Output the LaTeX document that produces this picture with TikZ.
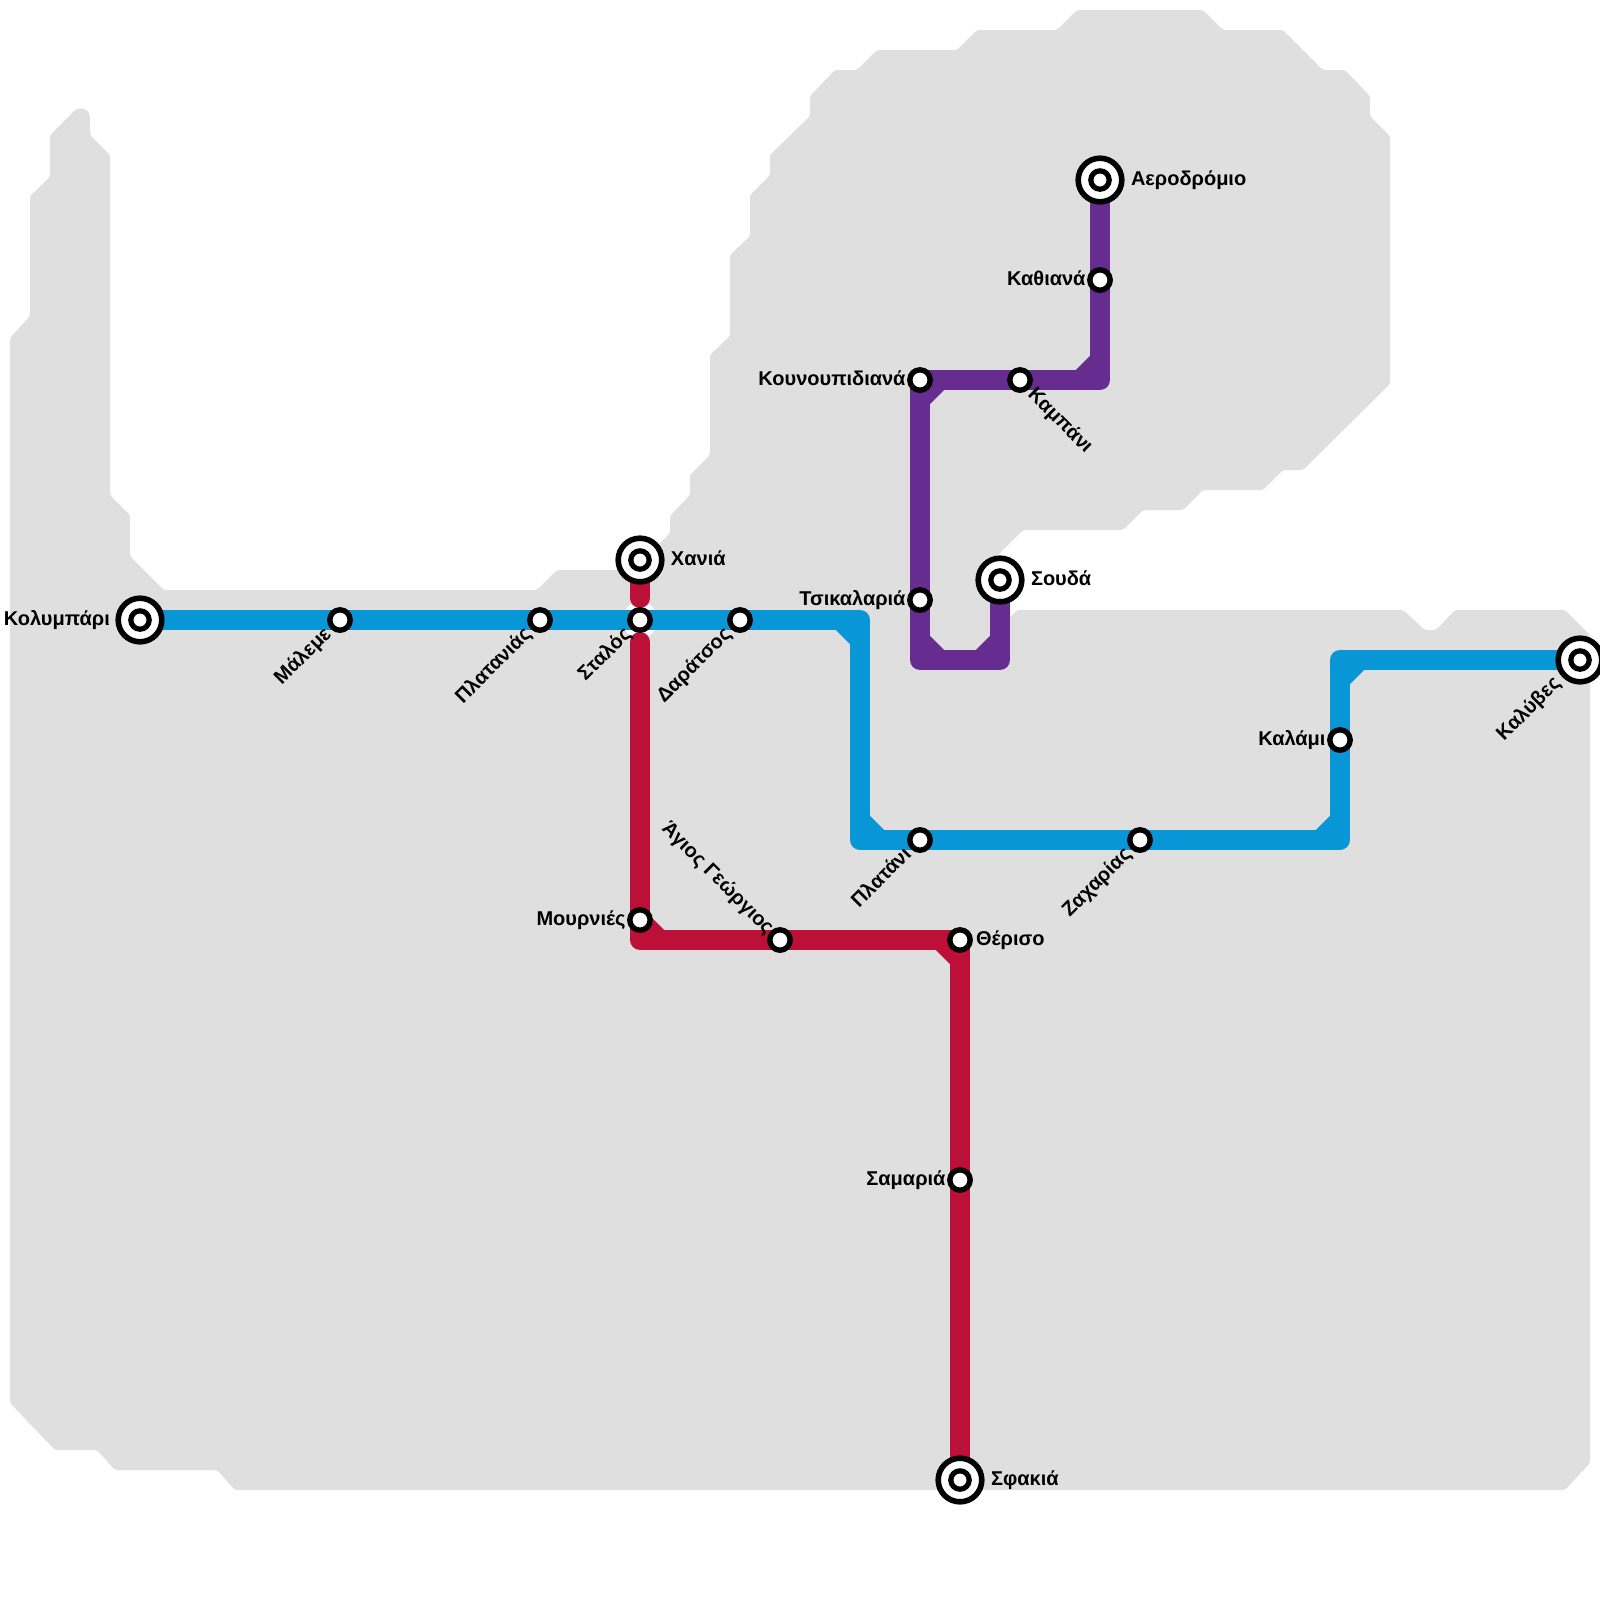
\documentclass[tikz,border=0pt]{standalone}
\usepackage{fontspec}
\setmainfont{Liberation Sans}
\definecolor{MetroBlue}{HTML}{0896D7}
\definecolor{MetroRed}{HTML}{BD1038}
\definecolor{MetroPurple}{HTML}{662C90}
\definecolor{LandGrey}{HTML}{DFDFDF}
\usetikzlibrary{positioning,backgrounds}
\tikzset{
  metro/.style={line width=5pt,line join=round,line cap=round},
  halt/.style={circle,draw=black,fill=white,line width=1.35pt,inner sep=0pt,minimum size=5.1pt},
  terminus/.style={circle,draw=black,fill=white,line width=1.4pt,inner sep=0pt,minimum size=10.9pt,
    path picture={\draw[line width=1.3pt,fill=white] (path picture bounding box.center) circle (2.3pt);}},
  place/.style={inner sep=0pt,font=\bfseries\fontsize{5}{6}\selectfont,text height=3.8pt,text depth=1pt},
  placeup/.style={place,rotate=45,anchor=east},
  placedown/.style={place,rotate=-45}
}
\begin{document}
\begin{tikzpicture}[x=0.25pt,y=-0.25pt]
      \useasboundingbox (0,0) rectangle (1600,1600);
      % blue line
      \node[terminus] (kolymbari) at (140,620) {};
      \node[halt] (maleme) at (340,620) {};
      \node[halt] (platanias) at (540,620) {};
      \node[halt] (stalos) at (640,620) {};
      \node[halt] (daratsos) at (740,620) {};
      \node[halt] (platani) at (920,840) {};
      \node[halt] (zacharias) at (1140,840) {};
      \node[halt] (kalami) at (1340,740) {};
      \node[terminus] (kalyves) at (1580,660) {};
      % red line
      \node[terminus] (chania) at (640,560) {};
      \node[halt] (mournies) at (640,920) {};
      \node[halt] (georgios) at (780,940) {};
      \node[halt] (theriso) at (960,940) {};
      \node[halt] (samaria) at (960,1180) {};
      \node[terminus] (sfakia) at (960,1480) {};
      % purple line
      \node[terminus] (souda) at (1000,580) {};
      \node[halt] (tsikalaria) at (920,600) {};
      \node[halt] (kounoupidiana) at (920,380) {};
      \node[halt] (kampani) at (1020,380) {};
      \node[halt] (kathiana) at (1100,280) {};
      \node[terminus] (aerodromio) at (1100,180) {};
      % corners
      \coordinate (bA) at (860,620);
      \coordinate (bB) at (860,840);
      \coordinate (bC) at (1340,840);
      \coordinate (bD) at (1340,660);
      \coordinate (rA) at (640,940);
      \coordinate (rB) at (960,940);
      \coordinate (rT) at (640,598);
      \coordinate (rU) at (640,642);
      \coordinate (pA) at (1000,660);
      \coordinate (pB) at (920,660);
      \coordinate (pC) at (920,380);
      \coordinate (pD) at (1100,380);
      % labels
      \node[place,left=1.2pt of kolymbari] (lkolymbari) {Κολυμπάρι};
      \node[placeup] (lmaleme) at ([shift={(-2.8pt,-2.7pt)}]maleme.center) {Μάλεμε};
      \node[placeup] (lplatanias) at ([shift={(-2.8pt,-2.7pt)}]platanias.center) {Πλατανιάς};
      \node[placeup] (lstalos) at ([shift={(-2.8pt,-2.7pt)}]stalos.center) {Σταλός};
      \node[placeup] (ldaratsos) at ([shift={(-2.8pt,-2.7pt)}]daratsos.center) {Δαράτσος};
      \node[placeup] (lplatani) at ([shift={(-2.8pt,-2.7pt)}]platani.center) {Πλατάνι};
      \node[placeup] (lzacharias) at ([shift={(-2.8pt,-2.7pt)}]zacharias.center) {Ζαχαρίας};
      \node[place,left=0.2pt of kalami] (lkalami) {Καλάμι};
      \node[placeup] (lkalyves) at ([shift={(-5.5pt,-5pt)}]kalyves.center) {Καλύβες};
      \node[place,right=1.4pt of chania] (lchania) {Χανιά};
      \node[place,left=0.2pt of mournies] (lmournies) {Μουρνιές};
      \node[placedown,anchor=east] (lgeorgios) at ([shift={(-2.3pt,2.1pt)}]georgios.center) {Άγιος Γεώργιος};
      \node[place,right=0.6pt of theriso] (ltheriso) {Θέρισο};
      \node[place,left=0.2pt of samaria] (lsamaria) {Σαμαριά};
      \node[place,right=1.4pt of sfakia] (lsfakia) {Σφακιά};
      \node[place,right=1.4pt of souda] (lsouda) {Σουδά};
      \node[place,left=0.2pt of tsikalaria] (ltsikalaria) {Τσικαλαριά};
      \node[place,left=0.2pt of kounoupidiana] (lkounoupidiana) {Κουνουπιδιανά};
      \node[placedown,anchor=west] (lkampani) at ([shift={(2.6pt,-2.8pt)}]kampani.center) {Καμπάνι};
      \node[place,left=0.2pt of kathiana] (lkathiana) {Καθιανά};
      \node[place,right=1.4pt of aerodromio] (laerodromio) {Αεροδρόμιο};
      \begin{scope}[on background layer]
        % land
        \fill[LandGrey,rounded corners=0.5pt] (10,1403) -- (10,338) -- (30,316) -- (30,196) -- (50,177) -- (50,135)
          -- (73,112) .. controls (78,107) and (90,107) .. (90,120) -- (90,135) -- (110,155) -- (110,495) -- (130,515) -- (130,556)
          -- (164,590) -- (537,590) -- (557,570) -- (633,570) -- (670,533) -- (670,516) -- (690,495) -- (690,475)
          -- (710,455) -- (710,355) -- (730,336) -- (730,255) -- (750,236) -- (750,195) -- (770,175) -- (770,155)
          -- (810,116) -- (810,96) -- (835,70) -- (857,70) -- (877,50) -- (957,50) -- (977,30) -- (1057,30)
          -- (1077,10) -- (1203,10) -- (1223,30) -- (1283,30) -- (1323,70) -- (1345,70) -- (1370,96) -- (1370,116)
          -- (1390,136) -- (1390,384) -- (1303,470) -- (1283,470) -- (1263,490) -- (1203,490) -- (1183,510)
          -- (1143,510) -- (1123,530) -- (1023,530) -- (993,560) -- (993,600) -- (1010,617) -- (1017,610)
          -- (1403,610) -- (1425,630) -- (1436,630) -- (1455,610) -- (1565,610) -- (1590,635) -- (1590,1463)
          -- (1565,1490) -- (235,1490) -- (217,1470) -- (115,1470) -- (97,1450) -- (55,1450) -- cycle;
        \fill[white] (stalos.center) circle (4.5pt);
        % lines
        \draw[metro,MetroBlue] (kolymbari.center) -- (bA) -- (bB) -- (bC) -- (bD) -- (kalyves.center);
        \draw[metro,MetroRed] (chania.center) -- (rT);
        \draw[metro,MetroRed] (rU) -- (rA) -- (rB) -- (sfakia.center);
        \draw[metro,MetroPurple] (souda.center) -- (pA) -- (pB) -- (pC) -- (pD) -- (aerodromio.center);
        % inner corner cuts
        \foreach \c/\dx/\dy/\col in {bA/-5/-5/MetroBlue,bB/5/5/MetroBlue,bC/-5/5/MetroBlue,bD/5/-5/MetroBlue,
            rA/5/5/MetroRed,rB/-5/-5/MetroRed,
            pA/-5/5/MetroPurple,pB/5/5/MetroPurple,pC/5/-5/MetroPurple,pD/-5/5/MetroPurple}
          \draw[line width=5pt,\col] ([xshift=\dx pt]\c) -- ([yshift=\dy pt]\c);
      \end{scope}
    \end{tikzpicture}
\end{document}
